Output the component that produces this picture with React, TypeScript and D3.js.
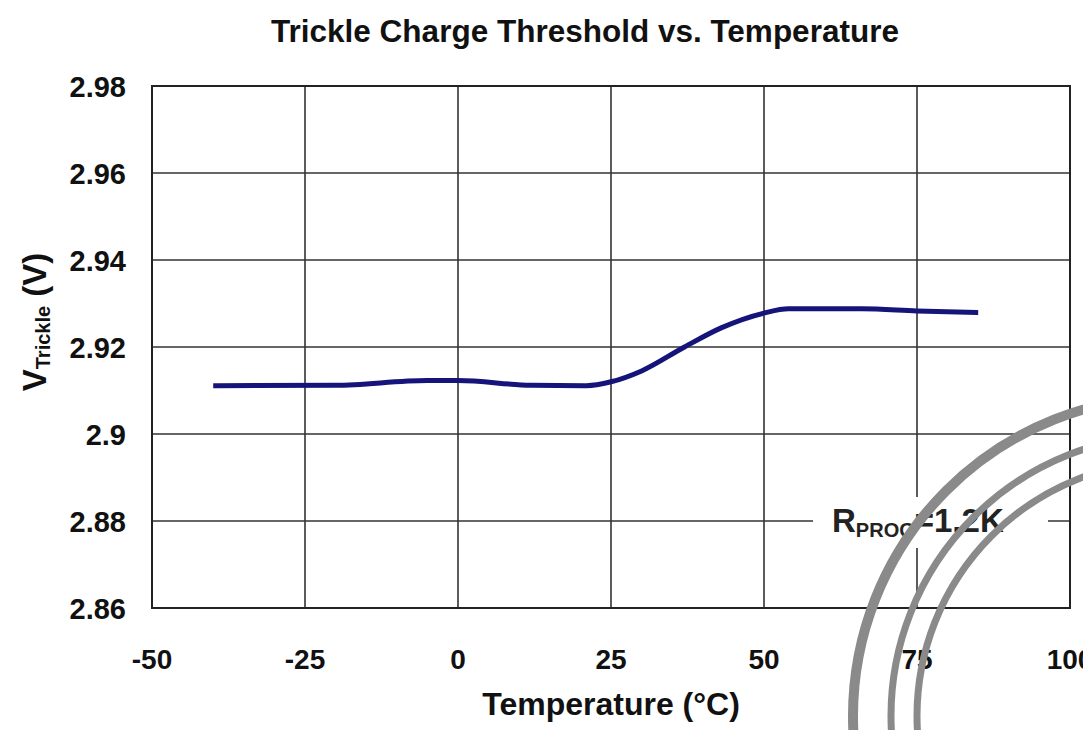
import React from "react";
import * as d3 from "d3";

const xTicks = [-50, -25, 0, 25, 50, 75, 100];
const yTicks = [2.86, 2.88, 2.9, 2.92, 2.94, 2.96, 2.98];
const yTickLabels = ["2.86", "2.88", "2.9", "2.92", "2.94", "2.96", "2.98"];
const temps = [-40, -20, -5, 0, 12, 21, 25, 30, 37, 43, 50, 54, 66, 75, 85];
const vTrickle = [2.9111, 2.9112, 2.9123, 2.9123, 2.9112, 2.9111, 2.912, 2.9145, 2.92, 2.9244, 2.9278, 2.9288, 2.9288, 2.9283, 2.9279];
const watermarkRadii = [319, 281, 255];
const watermarkWidths = [10, 7, 7];

const W = 1083;
const H = 730;
const L = 152, R = 1070, T = 86, B = 608;

export default function App() {
  const x = d3.scaleLinear().domain([-50, 100]).range([L, R]);
  const y = d3.scaleLinear().domain([2.86, 2.98]).range([B, T]);
  const pts: [number, number][] = temps.map((t, i) => [t, vTrickle[i]]);
  const line = d3
    .line<[number, number]>()
    .x((d) => x(d[0]))
    .y((d) => y(d[1]))
    .curve(d3.curveMonotoneX);
  const font = "'Liberation Sans', Arial, sans-serif";
  const cx = 1172, cy = 716;
  return (
    <svg
      width={W}
      height={H}
      style={{ position: "absolute", left: 0, top: 0, background: "#fff" }}
      fontFamily={font}
    >
      <rect x={0} y={0} width={W} height={H} fill="#fff" />
      <text x={585} y={42} textAnchor="middle" fontSize={31.5} fontWeight="bold" fill="#111">
        Trickle Charge Threshold vs. Temperature
      </text>
      {/* grid */}
      {xTicks.slice(1, -1).map((t) => (
        <line key={"vx" + t} x1={x(t)} x2={x(t)} y1={T} y2={B} stroke="#333" strokeWidth={1.6} />
      ))}
      {yTicks.slice(1, -1).map((v) => (
        <line key={"hy" + v} x1={L} x2={R} y1={y(v)} y2={y(v)} stroke="#333" strokeWidth={1.6} />
      ))}
      <rect x={L} y={T} width={R - L} height={B - T} fill="none" stroke="#222" strokeWidth={2} />
      {/* curve */}
      <path d={line(pts) || ""} fill="none" stroke="#14147a" strokeWidth={5} strokeLinecap="butt" />
      {/* annotation */}
      <rect x={813} y={497} width={235} height={51} fill="#fff" />
      <text x={832} y={532} fontSize={33} fontWeight="bold" fill="#222">
        R
        <tspan fontSize={20} dy={5}>PROG</tspan>
        <tspan dy={-5}>=1.2K</tspan>
      </text>
      {/* y tick labels */}
      {yTicks.map((v, i) => (
        <text key={"yl" + v} x={126} y={y(v) + 11} textAnchor="end" fontSize={29} fontWeight="bold" fill="#111">
          {yTickLabels[i]}
        </text>
      ))}
      {/* x tick labels */}
      {xTicks.map((t) => (
        <text key={"xl" + t} x={x(t)} y={669} textAnchor="middle" fontSize={28} fontWeight="bold" fill="#111">
          {t}
        </text>
      ))}
      <text x={611} y={715} textAnchor="middle" fontSize={32} fontWeight="bold" fill="#111">
        Temperature (°C)
      </text>
      <text transform={`translate(46,322) rotate(-90)`} textAnchor="middle" fontSize={33} fontWeight="bold" fill="#111">
        V<tspan fontSize={20} dy={4}>Trickle</tspan>
        <tspan dy={-4}> (V)</tspan>
      </text>
      {/* watermark arcs */}
      {watermarkRadii.map((r, i) => (
        <circle key={"wm" + r} cx={cx} cy={cy} r={r} fill="none" stroke="#8a8a8a" strokeWidth={watermarkWidths[i]} />
      ))}
    </svg>
  );
}
